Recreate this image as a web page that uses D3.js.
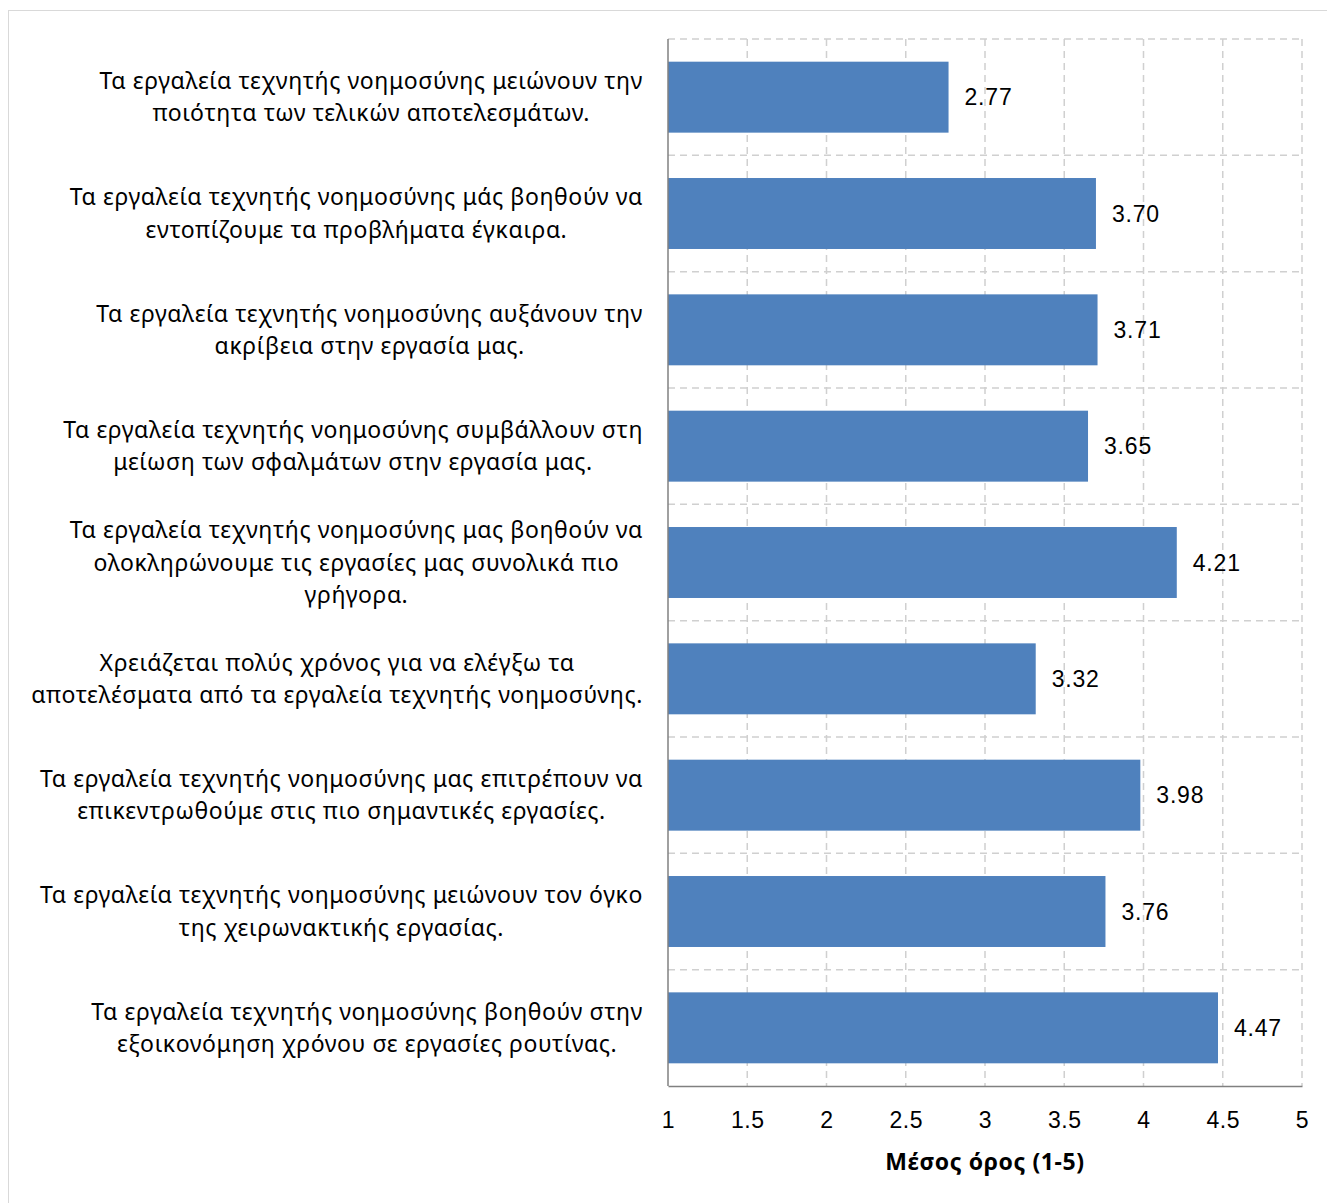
<!DOCTYPE html>
<html>
<head>
<meta charset="utf-8">
<script src="https://cdn.jsdelivr.net/npm/d3@7"></script>
<style>
  body { margin: 0; background: #fff; }
  svg { display: block; }
</style>
</head>
<body>
<script>
// statements (each one wrapped the way the chart wraps it)
var labels = [
  ["Τα εργαλεία τεχνητής νοημοσύνης μειώνουν την", "ποιότητα των τελικών αποτελεσμάτων."],
  ["Τα εργαλεία τεχνητής νοημοσύνης μάς βοηθούν να", "εντοπίζουμε τα προβλήματα έγκαιρα."],
  ["Τα εργαλεία τεχνητής νοημοσύνης αυξάνουν την", "ακρίβεια στην εργασία μας."],
  ["Τα εργαλεία τεχνητής νοημοσύνης συμβάλλουν στη", "μείωση των σφαλμάτων στην εργασία μας."],
  ["Τα εργαλεία τεχνητής νοημοσύνης μας βοηθούν να", "ολοκληρώνουμε τις εργασίες μας συνολικά πιο", "γρήγορα."],
  ["Χρειάζεται πολύς χρόνος για να ελέγξω τα", "αποτελέσματα από τα εργαλεία τεχνητής νοημοσύνης."],
  ["Τα εργαλεία τεχνητής νοημοσύνης μας επιτρέπουν να", "επικεντρωθούμε στις πιο σημαντικές εργασίες."],
  ["Τα εργαλεία τεχνητής νοημοσύνης μειώνουν τον όγκο", "της χειρωνακτικής εργασίας."],
  ["Τα εργαλεία τεχνητής νοημοσύνης βοηθούν στην", "εξοικονόμηση χρόνου σε εργασίες ρουτίνας."]
];
var means = [2.77, 3.70, 3.71, 3.65, 4.21, 3.32, 3.98, 3.76, 4.47];
var xTicks = [1, 1.5, 2, 2.5, 3, 3.5, 4, 4.5, 5];
var xTitle = "Μέσος όρος (1-5)";

var svgWidth = 1327;
var svgHeight = 1203;

var margin = { top: 39, right: 25, bottom: 117, left: 668 };
var width = svgWidth - margin.left - margin.right;
var height = svgHeight - margin.top - margin.bottom;

var svg = d3.select("body")
  .append("svg")
  .attr("width", svgWidth)
  .attr("height", svgHeight);

// chart frame
svg.append("rect")
  .attr("x", 8.5)
  .attr("y", 10.5)
  .attr("width", svgWidth)
  .attr("height", svgHeight)
  .attr("fill", "none")
  .attr("stroke", "#d9d9d9");

var chartGroup = svg.append("g")
  .attr("transform", `translate(${margin.left}, ${margin.top})`);

var x = d3.scaleLinear()
  .domain([1, 5])
  .range([0, width]);

var idx = d3.range(means.length);
var y = d3.scaleBand()
  .domain(idx)
  .range([0, height])
  .paddingInner(0.39)
  .paddingOuter(0.195);

// vertical gridlines
chartGroup.selectAll(".vgrid")
  .data(xTicks.slice(1))
  .enter()
  .append("line")
  .attr("x1", d => x(d))
  .attr("x2", d => x(d))
  .attr("y1", 0)
  .attr("y2", height)
  .attr("stroke", "#d0d0d0")
  .attr("stroke-width", 1.5)
  .attr("stroke-dasharray", "7,5");

// horizontal gridlines at category boundaries
var step = y.step();
chartGroup.selectAll(".hgrid")
  .data(idx)
  .enter()
  .append("line")
  .attr("x1", 0)
  .attr("x2", width)
  .attr("y1", d => d * step)
  .attr("y2", d => d * step)
  .attr("stroke", "#d0d0d0")
  .attr("stroke-width", 1.5)
  .attr("stroke-dasharray", "7,5");

// bars
chartGroup.selectAll(".bar")
  .data(means)
  .enter()
  .append("rect")
  .attr("x", 0)
  .attr("y", (d, i) => y(i))
  .attr("width", d => x(d) - x(1))
  .attr("height", y.bandwidth())
  .attr("fill", "#4f81bd");

// value labels
chartGroup.selectAll(".val")
  .data(means)
  .enter()
  .append("text")
  .attr("x", d => x(d) + 16)
  .attr("y", (d, i) => y(i) + y.bandwidth() / 2)
  .attr("dy", "0.35em")
  .style("font-family", "Liberation Sans, Arial, sans-serif")
  .style("font-size", "23px")
  .style("letter-spacing", "0.8px")
  .attr("fill", "#000")
  .text(d => d.toFixed(2));

// axes lines
chartGroup.append("line")
  .attr("x1", 0).attr("x2", 0)
  .attr("y1", 0).attr("y2", height)
  .attr("stroke", "#808080")
  .attr("stroke-width", 1.5);

var bottomAxis = d3.axisBottom(x)
  .tickValues(xTicks)
  .tickSize(0)
  .tickPadding(26)
  .tickFormat(d3.format("~g"));

var xAxis = chartGroup.append("g")
  .attr("transform", `translate(0, ${height})`)
  .call(bottomAxis);
xAxis.select(".domain")
  .attr("stroke", "#808080")
  .attr("stroke-width", 1.5);
xAxis.selectAll("text")
  .style("font-family", "Liberation Sans, Arial, sans-serif")
  .style("font-size", "23px")
  .style("letter-spacing", "0.5px")
  .attr("fill", "#000");

// x axis title
chartGroup.append("text")
  .attr("x", width / 2)
  .attr("y", height + 84)
  .style("text-anchor", "middle")
  .style("font-family", "Noto Sans, sans-serif")
  .style("font-weight", "bold")
  .style("font-size", "23px")
  .style("letter-spacing", "0.6px")
  .attr("fill", "#000")
  .text(xTitle);

// category labels: block right-aligned, lines centred inside the block
var labelRight = -25;
var lineH = 32.5;
labels.forEach(function(lines, i) {
  var g = chartGroup.append("g");
  var cy = y(i) + y.bandwidth() / 2;
  var texts = g.selectAll("text")
    .data(lines)
    .enter()
    .append("text")
    .style("font-family", "Noto Sans, sans-serif")
    .style("font-size", "23px")
    .style("letter-spacing", "0.6px")
    .attr("fill", "#000")
    .attr("text-anchor", "middle")
    .attr("dy", "0.35em")
    .attr("y", (d, j) => cy + (j - (lines.length - 1) / 2) * lineH)
    .text(d => d);
  var maxW = d3.max(texts.nodes(), n => n.getBoundingClientRect().width);
  texts.attr("x", labelRight - maxW / 2);
});
</script>
</body>
</html>
